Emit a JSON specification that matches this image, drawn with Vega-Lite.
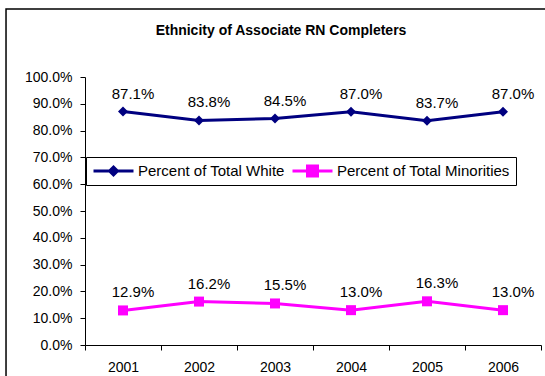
{
  "$schema": "https://vega.github.io/schema/vega-lite/v6.json",
  "width": 456,
  "height": 268,
  "autosize": {"type": "none"},
  "padding": {"left": 85, "top": 77, "right": 4, "bottom": 31},
  "background": "white",
  "config": {
    "font": "Liberation Sans",
    "view": {"stroke": null},
    "axis": {"grid": false, "domainColor": "black", "tickColor": "black", "labelColor": "black", "labelFont": "Liberation Sans", "labelFontSize": 14, "domainWidth": 1, "tickWidth": 1, "labelOverlap": false}
  },
  "title": {"text": "Ethnicity of Associate RN Completers", "font": "Liberation Sans", "fontSize": 14, "fontWeight": "bold", "color": "black", "anchor": "middle", "frame": "group", "dx": -32, "offset": -30},
  "data": {"values": [
    {"year": "2001", "series": "Percent of Total White", "value": 0.871},
    {"year": "2002", "series": "Percent of Total White", "value": 0.838},
    {"year": "2003", "series": "Percent of Total White", "value": 0.845},
    {"year": "2004", "series": "Percent of Total White", "value": 0.870},
    {"year": "2005", "series": "Percent of Total White", "value": 0.837},
    {"year": "2006", "series": "Percent of Total White", "value": 0.870},
    {"year": "2001", "series": "Percent of Total Minorities", "value": 0.129},
    {"year": "2002", "series": "Percent of Total Minorities", "value": 0.162},
    {"year": "2003", "series": "Percent of Total Minorities", "value": 0.155},
    {"year": "2004", "series": "Percent of Total Minorities", "value": 0.130},
    {"year": "2005", "series": "Percent of Total Minorities", "value": 0.163},
    {"year": "2006", "series": "Percent of Total Minorities", "value": 0.130}
  ]},
  "resolve": {"scale": {"x": "independent", "y": "independent"}},
  "layer": [
    {
      "data": {"values": [{}]},
      "mark": {"type": "rect", "fill": null, "stroke": "black", "strokeWidth": 1.5, "clip": false},
      "encoding": {
        "x": {"datum": -0.1732, "type": "quantitative", "scale": {"domain": [0, 1]}, "axis": null},
        "x2": {"datum": 1.03},
        "y": {"datum": 1.2537, "type": "quantitative", "scale": {"domain": [0, 1]}, "axis": null},
        "y2": {"datum": -0.2}
      }
    },
    {
      "layer": [
        {
          "mark": {"type": "line", "strokeWidth": 3},
          "encoding": {
            "color": {
              "field": "series", "type": "nominal",
              "scale": {"domain": ["Percent of Total White", "Percent of Total Minorities"], "range": ["#000080", "#FF00FF"]},
              "legend": {
                "title": null, "orient": "none", "legendX": 1, "legendY": 80, "direction": "horizontal",
                "strokeColor": "black", "fillColor": "white", "padding": 6, "cornerRadius": 0,
                "labelFont": "Liberation Sans", "labelFontSize": 15, "labelColor": "black", "labelOffset": 3, "labelLimit": 400,
                "symbolSize": 1600, "symbolStrokeWidth": 3, "clipHeight": 16, "columnPadding": 6,
                "encode": {"symbols": {"update": {
                  "shape": {"signal": "datum.value === 'Percent of Total White' ? 'M-1,0L-0.2,0L0,-0.2L0.2,0L1,0L0.2,0L0,0.2L-0.2,0Z' : 'M-1,0L-0.25,0L-0.25,-0.25L0.25,-0.25L0.25,0L1,0L0.25,0L0.25,0.25L-0.25,0.25L-0.25,0Z'"},
                  "fill": {"signal": "scale('color', datum.value)"},
                  "stroke": {"signal": "scale('color', datum.value)"}
                }}}
              }
            }
          }
        },
        {
          "transform": [{"filter": "datum.series === 'Percent of Total White'"}],
          "mark": {"type": "point", "filled": true, "size": 100, "opacity": 1, "shape": "diamond"},
          "encoding": {"color": {"field": "series", "type": "nominal", "legend": null}}
        },
        {
          "transform": [{"filter": "datum.series === 'Percent of Total Minorities'"}],
          "mark": {"type": "point", "filled": true, "size": 100, "opacity": 1, "shape": "square"},
          "encoding": {"color": {"field": "series", "type": "nominal", "legend": null}}
        },
        {
          "mark": {"type": "text", "fontSize": 15, "font": "Liberation Sans", "color": "black", "dy": -13, "dx": 10, "baseline": "alphabetic"},
          "encoding": {"text": {"field": "value", "type": "quantitative", "format": ".1%"}}
        }
      ],
      "encoding": {
        "x": {"field": "year", "type": "ordinal", "scale": {"type": "band", "paddingInner": 0, "paddingOuter": 0},
              "axis": {"title": null, "labelAngle": 0, "tickBand": "extent", "tickSize": 5, "labelPadding": 10}},
        "y": {"field": "value", "type": "quantitative", "scale": {"domain": [0, 1]},
              "axis": {"title": null, "format": ".1%", "values": [0, 0.1, 0.2, 0.3, 0.4, 0.5, 0.6, 0.7, 0.8, 0.9, 1], "tickSize": 5, "labelPadding": 8, "labelOverlap": false}}
      }
    }
  ]
}
